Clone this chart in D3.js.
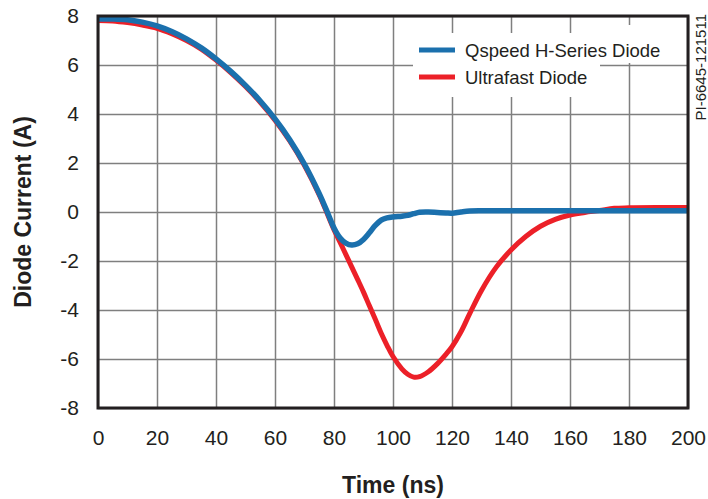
<!DOCTYPE html>
<html>
<head>
<meta charset="utf-8">
<script src="https://cdn.jsdelivr.net/npm/d3@7"></script>
<style>
  body { margin: 0; background: #fff; }
  text { font-family: "Liberation Sans", Arial, sans-serif; fill: #231f20; }
</style>
</head>
<body>
<div id="wrapper"></div>
<script>
// sample times (ns) and diode currents (A)
const times = [0, 5, 10, 15, 20, 25, 30, 35, 40, 45, 50, 55, 60, 65, 70, 75, 78, 80, 82, 84, 86, 88, 90,
  92, 94, 96, 98, 100, 103, 105, 107, 109, 112, 115, 118, 120, 123, 126, 130, 135, 140, 145, 150, 155,
  160, 165, 170, 175, 180, 190, 200]
const qspeed = [7.88, 7.88, 7.85, 7.75, 7.6, 7.37, 7.07, 6.7, 6.25, 5.74, 5.17, 4.53, 3.8, 2.95, 1.95, 0.75,
  -0.08, -0.65, -1.05, -1.27, -1.35, -1.3, -1.12, -0.85, -0.55, -0.33, -0.24, -0.2, -0.17, -0.14, -0.07,
  -0.01, 0.0, -0.02, -0.04, -0.05, 0.0, 0.04, 0.05, 0.05, 0.05, 0.05, 0.05, 0.05, 0.05, 0.05, 0.05,
  0.05, 0.05, 0.05, 0.05]
const ultrafast = [7.82, 7.8, 7.73, 7.63, 7.5, 7.28, 7.0, 6.65, 6.2, 5.69, 5.12, 4.48, 3.75, 2.9, 1.9, 0.7,
  -0.15, -0.72, -1.22, -1.73, -2.24, -2.75, -3.27, -3.83, -4.38, -4.95, -5.45, -5.9, -6.4, -6.62, -6.74,
  -6.72, -6.52, -6.2, -5.8, -5.5, -4.9, -4.15, -3.2, -2.25, -1.55, -1.0, -0.58, -0.3, -0.12, -0.02,
  0.06, 0.15, 0.17, 0.18, 0.18]
const xTicks = [0, 20, 40, 60, 80, 100, 120, 140, 160, 180, 200]
const yTicks = [-8, -6, -4, -2, 0, 2, 4, 6, 8]
const seriesNames = ["Qspeed H-Series Diode", "Ultrafast Diode"]
const seriesColors = ["#1b70ad", "#ec2028"]

const dms = {
  width: 708,
  height: 499,
  margin: { top: 16, right: 20, bottom: 91, left: 98 },
}
dms.boundedWidth = dms.width - dms.margin.left - dms.margin.right
dms.boundedHeight = dms.height - dms.margin.top - dms.margin.bottom

const wrapper = d3.select("#wrapper")
  .append("svg")
  .attr("width", dms.width)
  .attr("height", dms.height)

const bounds = wrapper.append("g")
  .attr("transform", `translate(${dms.margin.left},${dms.margin.top})`)

const xScale = d3.scaleLinear().domain([0, 200]).range([0, dms.boundedWidth])
const yScale = d3.scaleLinear().domain([-8, 8]).range([dms.boundedHeight, 0])

// grid
bounds.append("g")
  .attr("transform", `translate(0,${dms.boundedHeight})`)
  .call(d3.axisBottom(xScale).tickValues(xTicks).tickSize(-dms.boundedHeight).tickFormat(""))
bounds.append("g")
  .call(d3.axisLeft(yScale).tickValues(yTicks).tickSize(-dms.boundedWidth).tickFormat(""))
bounds.selectAll(".domain").remove()
bounds.selectAll(".tick line").attr("stroke", "#7f7f7f").attr("stroke-width", 1.5)

// legend background hides the grid behind it
bounds.append("rect")
  .attr("x", 315).attr("y", 17).attr("width", 187).attr("height", 64)
  .attr("fill", "#fff")
bounds.append("rect")
  .attr("x", 500).attr("y", 9).attr("width", 68).attr("height", 38)
  .attr("fill", "#fff")

// lines
const lineGen = vals => d3.line()
  .x((d, i) => xScale(times[i]))
  .y(d => yScale(d))
  .curve(d3.curveCatmullRom.alpha(0.5))(vals)

bounds.append("path")
  .attr("d", lineGen(ultrafast))
  .attr("fill", "none")
  .attr("stroke", seriesColors[1])
  .attr("stroke-width", 5)
  .attr("stroke-linejoin", "round")

bounds.append("path")
  .attr("d", lineGen(qspeed))
  .attr("fill", "none")
  .attr("stroke", seriesColors[0])
  .attr("stroke-width", 5.5)
  .attr("stroke-linejoin", "round")

// frame
bounds.append("rect")
  .attr("width", dms.boundedWidth)
  .attr("height", dms.boundedHeight)
  .attr("fill", "none")
  .attr("stroke", "#231f20")
  .attr("stroke-width", 3)

// tick labels
const xAxis = bounds.append("g")
  .attr("transform", `translate(0,${dms.boundedHeight})`)
  .call(d3.axisBottom(xScale).tickValues(xTicks).tickSize(0).tickPadding(22))
const yAxis = bounds.append("g")
  .call(d3.axisLeft(yScale).tickValues(yTicks).tickSize(0).tickPadding(19).tickFormat(d => d < 0 ? "-" + Math.abs(d) : d))
xAxis.select(".domain").remove()
yAxis.select(".domain").remove()
bounds.selectAll(".tick text")
  .style("font-size", "21px")
  .style("font-family", "'Liberation Sans', Arial, sans-serif")
  .attr("fill", "#231f20")

// legend
seriesNames.forEach((name, i) => {
  const ly = 34 + i * 27
  bounds.append("line")
    .attr("x1", 321).attr("x2", 357)
    .attr("y1", ly).attr("y2", ly)
    .attr("stroke", seriesColors[i])
    .attr("stroke-width", 5)
  bounds.append("text")
    .attr("x", 367).attr("y", ly)
    .attr("dy", "0.36em")
    .style("font-size", "18.5px")
    .text(name)
})

// axis titles
wrapper.append("text")
  .attr("x", dms.margin.left + dms.boundedWidth / 2)
  .attr("y", 493)
  .attr("text-anchor", "middle")
  .style("font-size", "23px")
  .style("font-weight", "bold")
  .text("Time (ns)")

wrapper.append("text")
  .attr("transform", `translate(31,${dms.margin.top + dms.boundedHeight / 2}) rotate(-90)`)
  .attr("text-anchor", "middle")
  .style("font-size", "23px")
  .style("font-weight", "bold")
  .text("Diode Current (A)")

wrapper.append("text")
  .attr("transform", "translate(706,14) rotate(-90)")
  .attr("text-anchor", "end")
  .style("font-size", "15px")
  .text("PI-6645-121511")
</script>
</body>
</html>
